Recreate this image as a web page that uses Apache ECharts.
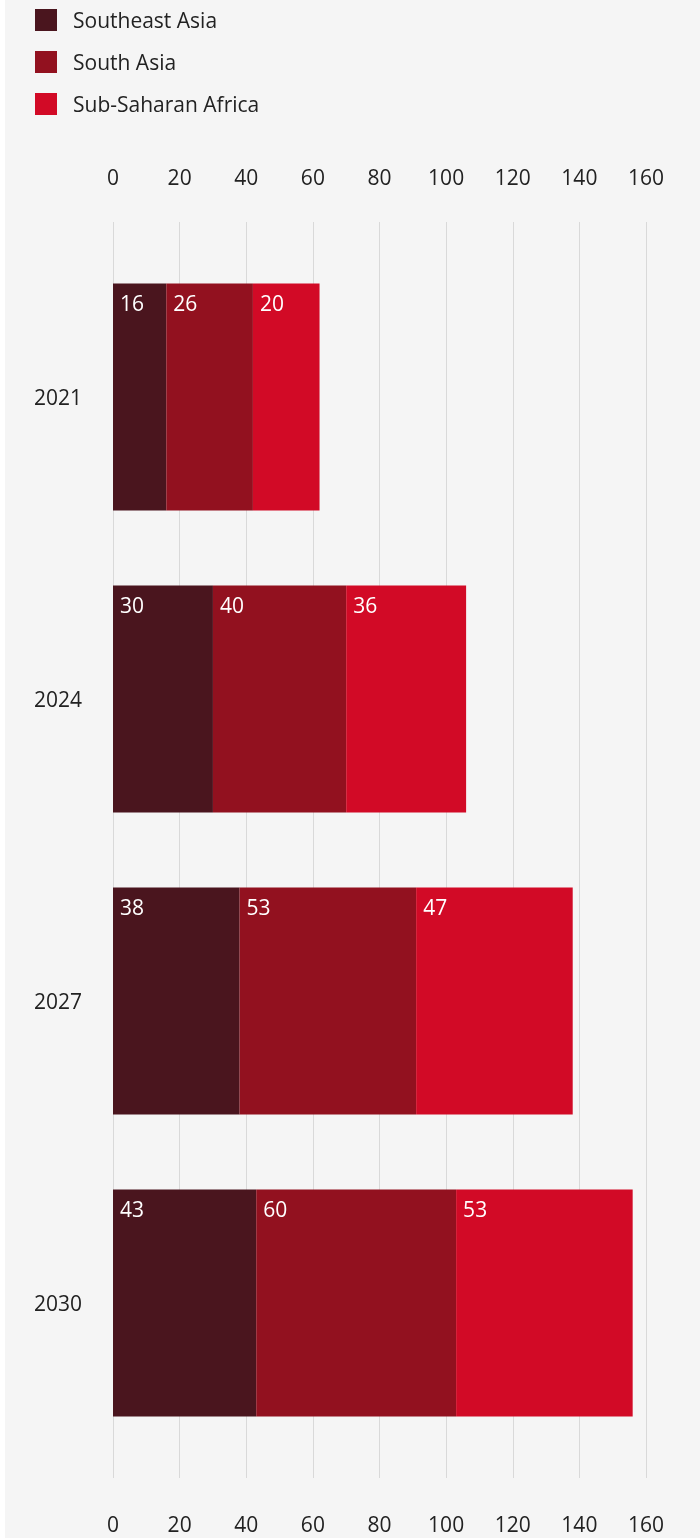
<!DOCTYPE html>
<html>
<head>
<meta charset="utf-8">
<script src="https://cdn.jsdelivr.net/npm/echarts@6/dist/echarts.min.js"></script>
<style>
  html, body { margin: 0; padding: 0; background: #ffffff; }
  #chart { position: absolute; left: 5px; top: 0; width: 695px; height: 1538px; background: #f5f5f5; }
</style>
</head>
<body>
<div id="chart"></div>
<script>
var years = ['2021', '2024', '2027', '2030'];
var seriesNames = ['Southeast Asia', 'South Asia', 'Sub-Saharan Africa'];
var southeastAsia = [16, 30, 38, 43];
var southAsia = [26, 40, 53, 60];
var subSaharanAfrica = [20, 36, 47, 53];
var colors = ['#4a151e', '#92111f', '#d20a26'];

var font = 'Open Sans';
var chart = echarts.init(document.getElementById('chart'));

function barSeries(name, data, color) {
  return {
    name: name,
    type: 'bar',
    stack: 'total',
    xAxisIndex: 0,
    yAxisIndex: 0,
    barWidth: 227,
    itemStyle: { color: color },
    label: {
      show: true,
      position: [7, 11],
      color: '#ffffff',
      fontSize: 21,
      fontFamily: font
    },
    data: data
  };
}

// text nudged down a few px to line up with the original
var lowered = { fontSize: 21, color: '#222222', fontFamily: font, padding: [5, 0, 0, 0] };

chart.setOption({
  backgroundColor: '#f5f5f5',
  animation: false,
  legend: {
    orient: 'vertical',
    left: 30,
    top: 9,
    padding: 0,
    itemWidth: 22,
    itemHeight: 22,
    itemGap: 18,
    icon: 'rect',
    formatter: '{t|{name}}',
    textStyle: {
      fontSize: 21, color: '#222222', fontFamily: font, padding: [0, 0, 0, 11],
      rich: { t: lowered }
    },
    data: seriesNames
  },
  grid: [
    // bars
    { left: 108, right: 54, top: 246, height: 1208 },
    // gridlines + tick labels
    { left: 108, right: 54, top: 222, height: 1256 }
  ],
  xAxis: [
    { type: 'value', gridIndex: 0, min: 0, max: 160, interval: 20, show: false },
    {
      type: 'value', gridIndex: 1, min: 0, max: 160, interval: 20, position: 'top',
      axisLine: { show: false }, axisTick: { show: false },
      axisLabel: { margin: 32, fontSize: 21, color: '#222222', fontFamily: font },
      splitLine: { lineStyle: { color: '#d9d9d9', width: 1 } }
    },
    {
      type: 'value', gridIndex: 1, min: 0, max: 160, interval: 20, position: 'bottom',
      axisLine: { show: false }, axisTick: { show: false },
      axisLabel: { margin: 38, fontSize: 21, color: '#222222', fontFamily: font },
      splitLine: { show: false }
    }
  ],
  yAxis: [
    {
      type: 'category', gridIndex: 0, inverse: true, data: years,
      axisLine: { show: false }, axisTick: { show: false },
      axisLabel: {
        align: 'left', margin: 79, fontSize: 21, color: '#222222', fontFamily: font,
        formatter: function (v) { return '{t|' + v + '}'; },
        rich: { t: lowered }
      }
    },
    { type: 'category', gridIndex: 1, show: false, data: [''] }
  ],
  series: [
    barSeries(seriesNames[0], southeastAsia, colors[0]),
    barSeries(seriesNames[1], southAsia, colors[1]),
    barSeries(seriesNames[2], subSaharanAfrica, colors[2])
  ]
});
</script>
</body>
</html>
